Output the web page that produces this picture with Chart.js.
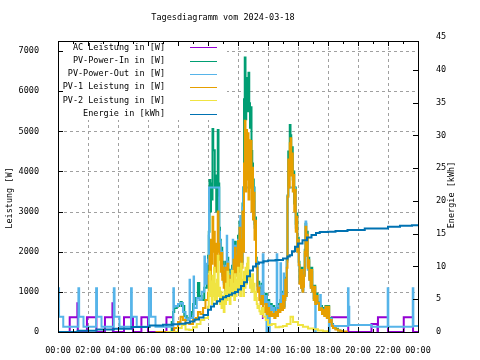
<!DOCTYPE html>
<html><head><meta charset="utf-8">
<script src="https://cdn.jsdelivr.net/npm/chart.js@4"></script>
<style>html,body{margin:0;padding:0;background:#fff}canvas{display:block}</style>
</head><body>
<canvas id="c" width="480" height="360"></canvas>
<script>
const chartTitle = 'Tagesdiagramm vom 2024-03-18';
const yTitle = 'Leistung [W]';
const y2Title = 'Energie [kWh]';
const xTickLabels = ['00:00','02:00','04:00','06:00','08:00','10:00','12:00','14:00','16:00','18:00','20:00','22:00','00:00'];
const yTicks = [0,1000,2000,3000,4000,5000,6000,7000];
const y2Ticks = [0,5,10,15,20,25,30,35,40,45];
const seriesLabels = ['AC Leistung in [W]','PV-Power-In in [W]','PV-Power-Out in [W]','PV-1 Leistung in [W]','PV-2 Leistung in [W]','Energie in [kWh]'];

// AC Leistung (mostly hidden under the PV lines in daytime -> gaps)
const acHours = [0,0.78,1.29,1.32,1.93,2.56,3.13,3.63,3.66,4.4,5.0,5.56,6.0,7.23,7.67,7.75,13.6,13.66,13.7,13.72,18.2,19.35,20.9,21.3,21.33,22.0,23.05,23.67,24];
const acWatts = [0,366,716,0,366,0,366,716,0,366,0,366,0,366,0,null,950,350,350,null,366,0,200,0,366,0,366,0,0];

const pvInHours = [7.5,7.58,7.67,7.75,7.92,8.08,8.17,8.25,8.42,8.58,8.75,8.92,9.0,9.17,9.33,9.42,9.58,9.75,9.92,
 10.0,10.05,10.1,10.15,10.2,10.25,10.3,10.35,10.4,10.45,10.5,10.55,10.6,10.65,10.7,10.75,10.8,
 10.85,10.9,10.95,11.0,11.05,11.1,11.15,11.2,11.25,11.3,11.35,11.4,11.45,11.5,11.55,11.6,11.65,11.7,11.75,11.8,11.85,11.9,11.95,12.0,12.05,12.1,12.15,12.2,12.25,
 12.3,12.35,12.4,12.45,12.5,12.55,12.6,12.65,12.7,12.75,12.8,12.85,12.9,12.95,13.0,13.05,13.1,13.15,13.2,13.25,13.3,13.35,13.42,
 13.5,13.58,13.67,13.75,13.83,13.92,14.0,14.08,14.17,14.25,14.33,14.42,14.5,14.58,14.67,14.75,14.83,14.92,15.0,15.05,15.1,15.15,15.2,
 15.25,15.3,15.35,15.4,15.45,15.5,15.55,15.6,15.65,15.7,15.75,15.8,15.85,15.9,15.95,16.0,16.05,16.1,16.15,16.2,16.25,16.3,16.35,16.4,16.45,16.5,16.55,16.6,16.65,16.7,16.75,16.8,16.85,16.9,16.95,17.0,17.05,17.1,17.15,17.2,17.3,17.4,17.5,17.6,17.67,17.75,17.83,17.92,18.0,18.08,18.17,18.25,18.33,18.5,18.67,18.83,19.0];
const pvInWatts = [0,250,500,600,650,700,750,650,400,300,350,500,700,850,1220,900,800,1100,1500,
 1900,2500,3790,3000,3700,3300,5060,4530,4530,3600,3900,3000,3400,5030,3700,2600,2300,
 2000,2100,1450,1750,1250,1650,1150,1750,1350,1850,1250,1550,1050,1450,1150,1650,1250,1950,1450,2250,1650,2050,1550,2400,1650,2750,1950,2450,1750,
 3200,3600,5800,6840,5300,6000,6330,5500,6460,5700,5090,5600,4510,4200,3800,3600,2700,2850,1850,1750,1150,1250,1100,
 900,1200,800,700,950,650,800,600,700,550,650,500,600,550,700,600,800,700,1000,650,850,1350,950,
 1800,3400,4500,4000,5160,4900,4200,4600,3800,4000,3200,3600,2700,2950,2100,2350,1750,1300,1600,1150,1600,1050,1200,1450,2050,2700,2000,2500,1650,1850,1350,1600,1150,1600,1050,1150,850,1150,750,950,750,600,650,500,600,450,650,400,650,300,350,200,150,80,40,20,0];

const pvOutHours = [0,0.07,0.35,1.36,1.41,1.7,2.54,2.6,2.9,3.72,3.77,4.1,4.87,4.92,5.25,6.06,6.2,6.5,7.69,7.73,
 7.83,8.0,8.17,8.33,8.5,8.67,8.77,8.8,9.0,9.04,9.07,9.25,9.42,9.58,9.76,9.8,9.92,
 10.0,10.05,10.07,10.75,10.8,
 10.85,10.9,10.95,11.0,11.05,11.1,11.15,11.2,11.25,11.28,11.3,11.35,11.4,11.45,11.5,11.55,11.6,11.65,11.68,11.7,11.75,11.8,11.85,11.9,11.95,12.0,12.05,12.1,12.15,12.18,12.2,12.25,12.3,12.35,
 13.05,13.1,13.15,13.2,13.25,13.3,13.35,13.42,
 13.5,13.58,13.65,13.7,13.83,13.9,13.94,14.08,14.12,14.25,14.33,14.42,14.58,14.62,14.75,14.83,14.87,15.0,15.05,15.08,15.1,15.15,15.2,
 15.25,15.3,15.35,15.8,15.85,15.9,15.95,16.0,16.05,16.1,16.15,16.2,16.25,16.3,16.35,16.4,16.45,16.5,16.55,16.6,16.65,16.7,16.75,16.8,16.85,16.9,16.95,17.0,17.05,17.1,17.15,17.18,17.2,17.3,17.4,17.48,17.52,17.6,17.67,17.75,17.83,17.92,18.0,18.06,18.1,18.25,18.35,19.33,19.37,19.42,20.9,21.98,22.02,23.65,23.69,24];
const pvOutWatts = [1090,380,130,1090,380,130,1090,380,130,1090,380,130,1090,380,130,1090,380,130,1090,630,
 650,700,720,500,320,300,1300,350,400,1380,600,850,800,1000,1880,1200,1700,
 1800,2400,3600,2500,2250,
 1900,2000,1400,1650,1200,1550,1100,1650,2400,1300,1750,1200,1450,1000,1400,1100,1550,2300,1200,1850,1400,2150,1550,1950,1450,2300,1600,2600,2890,1850,2350,1700,3100,3600,
 3250,2600,2700,1800,1650,1050,1150,1050,
 850,1150,1940,700,900,0,750,0,650,550,600,480,1940,650,580,1710,680,950,1460,620,800,1300,900,
 1750,3370,3600,3450,2600,2850,2000,2250,1650,1250,1500,1100,1500,1000,1150,1400,1950,2750,1900,2400,1550,1750,1300,1500,1100,1500,1000,1100,800,1100,0,700,900,700,580,920,560,480,560,430,600,380,600,0,330,180,150,1090,630,175,130,1090,130,1090,150,150];

const pv1Hours = [6.5,7.67,7.75,8.0,8.17,8.33,8.5,8.75,9.0,9.17,9.33,9.5,9.67,9.83,
 10.0,10.05,10.1,10.15,10.2,10.25,10.3,10.35,10.4,10.45,10.5,10.55,10.6,10.65,10.7,10.75,10.8,
 10.85,10.9,10.95,11.0,11.05,11.1,11.15,11.2,11.25,11.3,11.35,11.4,11.45,11.5,11.55,11.6,11.65,11.7,11.75,11.8,11.85,11.9,11.95,
 12.0,12.05,12.1,12.15,12.2,12.25,12.3,12.35,12.4,12.45,12.5,12.55,12.6,12.65,12.7,12.75,12.8,12.85,12.9,12.95,13.0,13.05,13.1,13.15,13.2,13.25,13.3,13.35,13.42,
 13.5,13.58,13.67,13.75,13.83,13.92,14.0,14.08,14.17,14.25,14.33,14.42,14.5,14.58,14.67,14.75,14.83,14.92,
 15.0,15.05,15.1,15.15,15.2,15.25,15.3,15.35,15.4,15.45,15.5,15.55,15.6,15.65,15.7,15.75,15.8,15.85,15.9,15.95,16.0,16.05,16.1,16.15,16.2,16.25,16.3,16.35,16.4,16.45,16.5,16.55,16.6,16.65,16.7,16.75,16.8,16.85,16.9,16.95,17.0,17.05,17.1,17.15,17.2,17.3,17.4,17.5,17.6,17.67,17.75,17.83,17.92,18.0,18.08,18.17,18.25,18.33,18.5,18.67,18.83,19.0,19.25];
const pv1Watts = [0,0,100,250,380,300,220,200,300,350,500,450,600,800,
 970,1400,1900,1300,2300,1700,2870,2000,2500,1600,2200,1500,2000,3000,2200,1800,1970,
 1500,1970,1300,1600,1100,1500,1000,1600,1200,1700,1100,1400,900,1300,1000,1500,1100,1800,1300,2100,1500,1900,1400,
 2270,1500,2600,1800,2300,1600,3000,2000,4200,5260,3500,5030,3800,4950,3300,4780,3600,4760,3000,4090,2800,3470,2300,2770,1700,1600,1000,1100,800,
 700,900,600,500,700,450,600,400,500,400,450,350,500,400,550,500,700,550,
 900,600,800,1300,900,1600,3370,4300,3600,4700,4830,3900,4450,3500,3910,3000,3540,2500,2870,2000,2290,1670,1200,1545,1100,1545,1000,1130,1400,2000,2620,1900,2420,1600,1790,1300,1545,1100,1545,1000,1130,800,1130,700,900,720,550,590,450,550,400,630,350,630,250,300,150,100,60,40,20,10,0];

const pv2Hours = [7.2,8.0,8.25,8.5,8.75,9.0,9.25,9.5,9.75,
 10.0,10.05,10.1,10.15,10.2,10.25,10.3,10.35,10.4,10.45,10.5,10.55,10.6,10.65,10.7,10.75,10.8,10.85,10.9,10.95,11.0,11.05,11.1,11.15,11.2,11.25,11.3,11.35,11.4,11.45,11.5,11.55,11.6,11.65,11.7,11.75,11.8,11.85,11.9,11.95,
 12.0,12.05,12.1,12.15,12.2,12.25,12.3,12.35,12.4,12.45,12.5,12.55,12.6,12.65,12.7,12.75,12.8,12.85,12.9,12.95,13.0,13.05,13.1,13.15,13.2,13.25,13.3,13.35,13.43,13.5,13.6,13.7,13.85,
 14.0,14.25,14.5,14.75,15.0,15.25,15.5,15.67,16.0,16.33,16.67,17.0,17.33,17.67,18.0];
const pv2Watts = [0,100,175,60,50,120,200,300,350,
 630,1000,1500,900,1250,700,1400,900,1600,800,1200,700,1300,1900,900,1100,700,1000,600,900,900,500,1000,700,1200,800,1500,900,1100,700,1300,900,1520,1000,1200,800,1440,900,1300,1000,
 1600,1100,1440,900,1700,1100,1300,900,1500,1100,1600,1200,1700,1850,1300,1500,1100,1300,1000,1440,1000,1200,800,1000,850,700,600,650,520,450,600,380,300,
 175,200,120,130,150,200,380,250,175,130,90,70,40,20,0];

const energyHours = [0,1.31,2.56,3.73,4.89,6.11,7.0,7.65,8.1,8.5,8.8,9.1,9.4,9.7,10.0,10.2,10.4,10.6,10.8,11.0,11.2,11.4,11.6,11.8,12.0,12.2,12.4,12.6,12.8,13.0,13.2,13.4,13.7,14.0,14.5,15.0,15.3,15.45,15.6,15.8,16.0,16.3,16.6,16.9,17.2,17.45,18.0,18.5,19.3,20.45,22.0,22.8,23.6,24];
const energyKWh = [0,0.2,0.4,0.5,0.75,1.0,1.1,1.2,1.25,1.4,1.6,1.9,2.2,2.6,3.4,3.9,4.3,4.7,5.0,5.3,5.5,5.7,5.9,6.1,6.5,7.0,7.6,8.5,9.4,10.0,10.4,10.6,10.8,10.9,11.0,11.2,11.5,11.7,12.3,13.0,13.5,14.0,14.4,14.8,15.1,15.25,15.3,15.4,15.55,15.8,16.05,16.2,16.3,16.4];

const seriesColors = ['#9400d3','#009e73','#56b4e9','#e69f00','#f0e442','#0072b2'];
const FONT = 'DejaVu Sans Mono';

function pts(t, v) { return t.map((x, i) => ({x: x, y: v[i]})); }

const seriesData = [
  pts(acHours, acWatts), pts(pvInHours, pvInWatts), pts(pvOutHours, pvOutWatts),
  pts(pv1Hours, pv1Watts), pts(pv2Hours, pv2Watts), pts(energyHours, energyKWh)
];

const datasets = seriesData.map((d, i) => ({
  label: seriesLabels[i],
  data: d,
  borderColor: seriesColors[i],
  backgroundColor: seriesColors[i],
  borderWidth: 2,
  pointRadius: 0,
  stepped: 'before',
  spanGaps: false,
  fill: false,
  yAxisID: i === 5 ? 'y2' : 'y',
  order: 6 - i
}));

const deco = {
  id: 'deco',
  beforeDatasetsDraw(chart) {
    const {ctx, chartArea: a, scales} = chart;
    const x = scales.x, y = scales.y;
    ctx.save();
    ctx.lineWidth = 1;
    ctx.strokeStyle = '#a0a0a0';
    ctx.setLineDash([3, 3]);
    ctx.beginPath();
    for (let h = 2; h < 24; h += 2) {
      const px = Math.round(x.getPixelForValue(h)) + 0.5;
      ctx.moveTo(px, a.top); ctx.lineTo(px, a.bottom);
    }
    yTicks.forEach(v => {
      if (v === 0) return;
      const py = Math.round(y.getPixelForValue(v)) + 0.5;
      ctx.moveTo(a.left, py); ctx.lineTo(a.right, py);
    });
    ctx.stroke();
    ctx.setLineDash([]);
    ctx.fillStyle = '#fff';
    ctx.fillRect(a.left + 1, a.top + 1, 226 - a.left, 119 - a.top);
    ctx.restore();
  },
  afterDatasetsDraw(chart) {
    const {ctx, chartArea: a, scales} = chart;
    const x = scales.x, y = scales.y, y2 = scales.y2;
    ctx.save();
    ctx.lineWidth = 1;
    ctx.strokeStyle = '#000';
    ctx.strokeRect(Math.round(a.left) + 0.5, Math.round(a.top) + 0.5, Math.round(a.right - a.left), Math.round(a.bottom - a.top));
    ctx.beginPath();
    for (let h = 1; h < 24; h++) {
      const px = Math.round(x.getPixelForValue(h)) + 0.5;
      const len = h % 2 === 0 ? 5 : 3;
      ctx.moveTo(px, a.bottom); ctx.lineTo(px, a.bottom - len);
      ctx.moveTo(px, a.top); ctx.lineTo(px, a.top + len);
    }
    yTicks.forEach(v => {
      const py = Math.round(y.getPixelForValue(v)) + 0.5;
      ctx.moveTo(a.left, py); ctx.lineTo(a.left + 5, py);
    });
    y2Ticks.forEach(v => {
      if (v > y2.max) return;
      const py = Math.round(y2.getPixelForValue(v)) + 0.5;
      ctx.moveTo(a.right, py); ctx.lineTo(a.right - 5, py);
    });
    ctx.stroke();

    ctx.font = '8.5px "' + FONT + '"';
    ctx.fillStyle = '#000';
    ctx.textBaseline = 'middle';
    const rows = [47.3, 60.6, 73.9, 87.2, 100.4, 113.6];
    seriesLabels.forEach((lab, i) => {
      ctx.textAlign = 'right';
      ctx.fillStyle = '#000';
      ctx.fillText(lab, 165, rows[i]);
      ctx.strokeStyle = seriesColors[i];
      ctx.lineWidth = 1;
      ctx.beginPath();
      ctx.moveTo(190, Math.round(rows[i]) + 0.5);
      ctx.lineTo(217, Math.round(rows[i]) + 0.5);
      ctx.stroke();
    });
    ctx.textAlign = 'center';
    ctx.fillStyle = '#000';
    ctx.fillText(chartTitle, 223, 18);
    ctx.save();
    ctx.translate(10, 198);
    ctx.rotate(-Math.PI / 2);
    ctx.fillText(yTitle, 0, 0);
    ctx.restore();
    ctx.save();
    ctx.translate(452, 195);
    ctx.rotate(-Math.PI / 2);
    ctx.fillText(y2Title, 0, 0);
    ctx.restore();
    ctx.restore();
  }
};

const tickFont = {family: FONT, size: 8.5};

new Chart(document.getElementById('c'), {
  type: 'line',
  data: {datasets: datasets},
  options: {
    responsive: false,
    animation: false,
    devicePixelRatio: 1,
    events: [],
    layout: {padding: {top: 41, left: 0, right: 0, bottom: 0}},
    plugins: {legend: {display: false}, title: {display: false}, tooltip: {enabled: false}},
    scales: {
      x: {
        type: 'linear', min: 0, max: 24,
        afterBuildTicks: s => { s.ticks = xTickLabels.map((l, i) => ({value: i * 2})); },
        afterFit: s => { s.height = 28; },
        grid: {display: false}, border: {display: false},
        ticks: {autoSkip: false, maxRotation: 0, padding: 6, color: '#000', font: tickFont,
          callback: v => xTickLabels[Math.round(v / 2)]}
      },
      y: {
        type: 'linear', position: 'left', min: 0, max: 7250,
        afterBuildTicks: s => { s.ticks = yTicks.map(v => ({value: v})); },
        afterFit: s => { s.width = 58; },
        grid: {display: false}, border: {display: false},
        ticks: {autoSkip: false, padding: 11, color: '#000', font: tickFont, callback: v => String(v)}
      },
      y2: {
        type: 'linear', position: 'right', min: 0, max: 44.39,
        afterBuildTicks: s => { s.ticks = y2Ticks.map(v => ({value: v})); },
        afterFit: s => { s.width = 62; },
        grid: {display: false}, border: {display: false},
        ticks: {autoSkip: false, padding: 10, color: '#000', font: tickFont, callback: v => String(v)}
      }
    }
  },
  plugins: [deco]
});
</script>
</body></html>
